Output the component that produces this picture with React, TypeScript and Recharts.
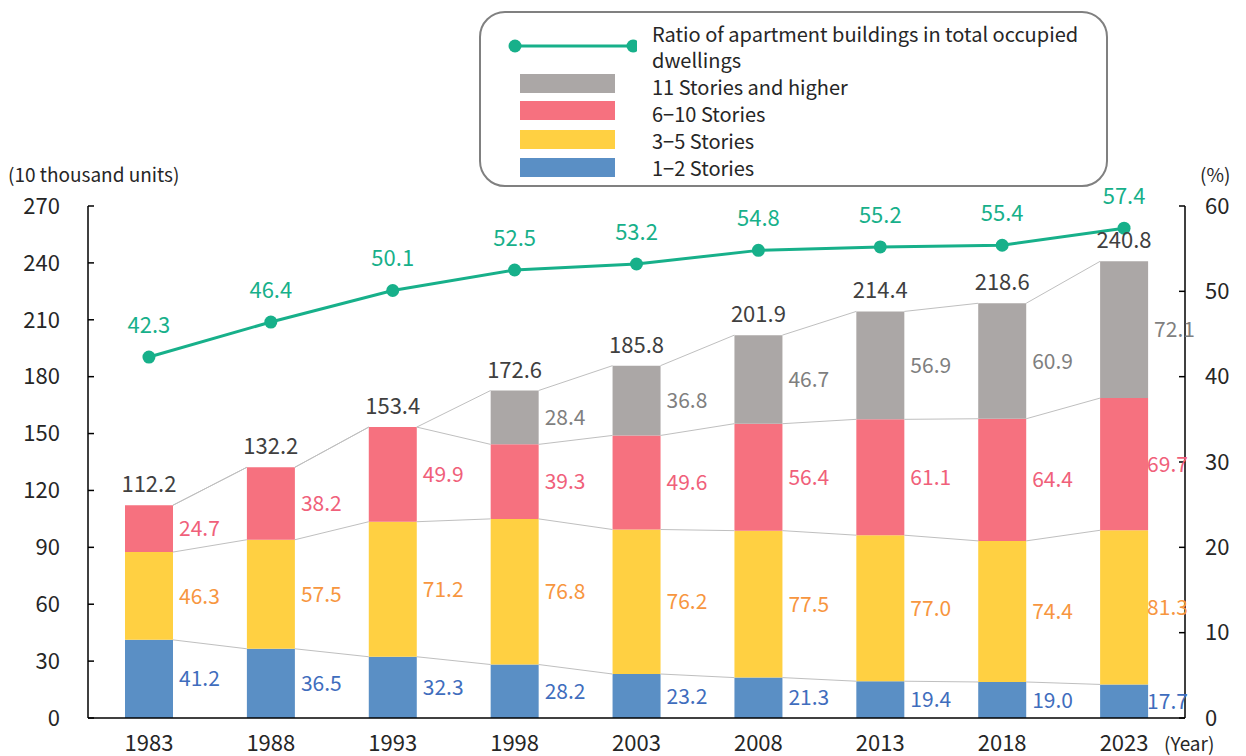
import React from 'react';
import {
  ComposedChart,
  Bar,
  Line,
  XAxis,
  YAxis,
  LabelList,
} from 'recharts';

const years = ['1983', '1988', '1993', '1998', '2003', '2008', '2013', '2018', '2023'];
const stories1to2 = [41.2, 36.5, 32.3, 28.2, 23.2, 21.3, 19.4, 19.0, 17.7];
const stories3to5 = [46.3, 57.5, 71.2, 76.8, 76.2, 77.5, 77.0, 74.4, 81.3];
const stories6to10 = [24.7, 38.2, 49.9, 39.3, 49.6, 56.4, 61.1, 64.4, 69.7];
const stories11up = [0, 0, 0, 28.4, 36.8, 46.7, 56.9, 60.9, 72.1];
const totals = [112.2, 132.2, 153.4, 172.6, 185.8, 201.9, 214.4, 218.6, 240.8];
const ratio = [42.3, 46.4, 50.1, 52.5, 53.2, 54.8, 55.2, 55.4, 57.4];

const leftTicks = [0, 30, 60, 90, 120, 150, 180, 210, 240, 270];
const rightTicks = [0, 10, 20, 30, 40, 50, 60];

const W = 1246;
const H = 756;
const LEFT_W = 88;
const RIGHT_W = 61;
const TOP = 206;
const X_H = 38;
const BAR_SIZE = 48;
const PLOT_W = W - LEFT_W - RIGHT_W;
const FS = 21;
const FONT = '"Noto Sans CJK JP", "Noto Sans", sans-serif';

const C_BLUE = '#5A8FC5';
const C_YELLOW = '#FFD042';
const C_PINK = '#F6717F';
const C_GRAY = '#ABA7A6';
const T_BLUE = '#3F6DBD';
const T_ORANGE = '#F7963F';
const T_PINK = '#F0607A';
const T_GRAY = '#7F7F7F';
const GREEN = '#17B08A';
const TEXT = '#262626';

const data = years.map((year, i) => ({
  year,
  s1: stories1to2[i],
  s2: stories3to5[i],
  s3: stories6to10[i],
  s4: stories11up[i],
  total: totals[i],
  ratio: ratio[i],
}));

// cumulative levels for the thin connector lines between bars
const levels = [0, 1, 2, 3].map(k =>
  years.map((_, i) =>
    [stories1to2, stories3to5, stories6to10, stories11up]
      .slice(0, k + 1)
      .reduce((s, arr) => s + arr[i], 0),
  ),
);
const half = BAR_SIZE / 2 / (PLOT_W / years.length);
const connectorData: { x: number; y: number | null }[] = [];
levels.forEach(level => {
  for (let i = 0; i < years.length - 1; i++) {
    connectorData.push({ x: i + 0.5 + half, y: level[i] });
    connectorData.push({ x: i + 1.5 - half, y: level[i + 1] });
    connectorData.push({ x: i + 1, y: null });
  }
});

const segLabel = (color: string) => (props: any) => {
  const vb = props.viewBox ?? props;
  const { x, y, width, height } = vb;
  const v = Number(props.value);
  if (!v) return null;
  const last = props.index === years.length - 1;
  return (
    <text
      x={x + width + (last ? -1 : 6)}
      y={y + height / 2}
      dy="0.36em"
      fill={color}
      fontSize={FS}
      textAnchor="start"
    >
      {v.toFixed(1)}
    </text>
  );
};

const Legend = () => {
  const row = (top: number): React.CSSProperties => ({
    position: 'absolute',
    left: 171,
    top,
    height: 22,
    lineHeight: '22px',
    fontSize: FS - 1,
    color: TEXT,
    whiteSpace: 'nowrap',
  });
  const sw = (top: number, color: string): React.CSSProperties => ({
    position: 'absolute',
    left: 39,
    top,
    width: 95,
    height: 19,
    background: color,
  });
  return (
    <div
      style={{
        position: 'absolute',
        left: 479,
        top: 11,
        width: 625,
        height: 172,
        border: '2px solid #808080',
        borderRadius: 26,
        background: '#fff',
      }}
    >
      <svg style={{ position: 'absolute', left: 26, top: 24 }} width={130} height={18}>
        <line x1={8} y1={9} x2={126} y2={9} stroke={GREEN} strokeWidth={3} />
        <circle cx={8} cy={9} r={6.5} fill={GREEN} />
        <circle cx={126} cy={9} r={6.5} fill={GREEN} />
      </svg>
      <div style={row(10)}>Ratio of apartment buildings in total occupied</div>
      <div style={row(36)}>dwellings</div>
      <div style={sw(61, C_GRAY)} />
      <div style={row(63)}>11 Stories and higher</div>
      <div style={sw(88, C_PINK)} />
      <div style={row(90)}>6−10 Stories</div>
      <div style={sw(117, C_YELLOW)} />
      <div style={row(117)}>3−5 Stories</div>
      <div style={sw(145, C_BLUE)} />
      <div style={row(144)}>1−2 Stories</div>
    </div>
  );
};

export default function App() {
  const note: React.CSSProperties = {
    position: 'absolute',
    fontSize: FS - 2,
    lineHeight: '20px',
    color: TEXT,
    whiteSpace: 'nowrap',
  };
  return (
    <div
      style={{
        position: 'absolute',
        left: 0,
        top: 0,
        width: W,
        height: H,
        background: '#fff',
        fontFamily: FONT,
        overflow: 'hidden',
      }}
    >
      <ComposedChart
        width={W}
        height={H}
        data={data}
        margin={{ top: TOP, right: 0, bottom: 0, left: 0 }}
      >
        <XAxis
          dataKey="year"
          height={X_H}
          tickLine={false}
          tickSize={0}
          tickMargin={17}
          axisLine={{ stroke: '#000', strokeWidth: 1.5 }}
          tick={{ fill: TEXT, fontSize: FS + 1 }}
          interval={0}
        />
        <XAxis xAxisId="num" type="number" dataKey="x" domain={[0, years.length]} hide />
        <YAxis
          yAxisId="left"
          width={LEFT_W}
          domain={[0, 270]}
          ticks={leftTicks}
          tickSize={-6}
          tickMargin={34}
          axisLine={{ stroke: '#000', strokeWidth: 1.5 }}
          tickLine={{ stroke: '#000', strokeWidth: 1.5 }}
          tick={{ fill: TEXT, fontSize: FS + 1 }}
          interval={0}
        />
        <YAxis
          yAxisId="right"
          orientation="right"
          width={RIGHT_W}
          domain={[0, 60]}
          ticks={rightTicks}
          tickSize={-6}
          tickMargin={26}
          axisLine={{ stroke: '#000', strokeWidth: 1.5 }}
          tickLine={{ stroke: '#000', strokeWidth: 1.5 }}
          tick={{ fill: TEXT, fontSize: FS + 1 }}
          interval={0}
        />
        <Line
          xAxisId="num"
          yAxisId="left"
          data={connectorData}
          dataKey="y"
          type="linear"
          stroke="#BFBFBF"
          strokeWidth={1}
          dot={false}
          activeDot={false}
          connectNulls={false}
          isAnimationActive={false}
        />
        <Bar yAxisId="left" dataKey="s1" stackId="a" fill={C_BLUE} barSize={BAR_SIZE} isAnimationActive={false}>
          <LabelList dataKey="s1" content={segLabel(T_BLUE)} />
        </Bar>
        <Bar yAxisId="left" dataKey="s2" stackId="a" fill={C_YELLOW} barSize={BAR_SIZE} isAnimationActive={false}>
          <LabelList dataKey="s2" content={segLabel(T_ORANGE)} />
        </Bar>
        <Bar yAxisId="left" dataKey="s3" stackId="a" fill={C_PINK} barSize={BAR_SIZE} isAnimationActive={false}>
          <LabelList dataKey="s3" content={segLabel(T_PINK)} />
        </Bar>
        <Bar yAxisId="left" dataKey="s4" stackId="a" fill={C_GRAY} barSize={BAR_SIZE} isAnimationActive={false}>
          <LabelList dataKey="s4" content={segLabel(T_GRAY)} />
        </Bar>
        {/* invisible series carrying the stack totals */}
        <Line
          yAxisId="left"
          dataKey="total"
          stroke="none"
          dot={false}
          activeDot={false}
          isAnimationActive={false}
        >
          <LabelList
            dataKey="total"
            position="top"
            offset={13}
            fill="#404040"
            fontSize={FS + 1}
            formatter={(v: any) => Number(v).toFixed(1)}
          />
        </Line>
        <Line
          yAxisId="right"
          dataKey="ratio"
          type="linear"
          stroke={GREEN}
          strokeWidth={3}
          dot={{ r: 6.5, fill: GREEN, stroke: GREEN, strokeWidth: 0 }}
          activeDot={false}
          isAnimationActive={false}
        >
          <LabelList
            dataKey="ratio"
            position="top"
            offset={24}
            fill={GREEN}
            fontSize={FS + 1}
            formatter={(v: any) => Number(v).toFixed(1)}
          />
        </Line>
      </ComposedChart>
      <div style={{ ...note, left: 8, top: 164 }}>(10 thousand units)</div>
      <div style={{ ...note, left: 1200, top: 164 }}>(%)</div>
      <div style={{ ...note, left: 1164, top: 733 }}>(Year)</div>
      <Legend />
    </div>
  );
}
